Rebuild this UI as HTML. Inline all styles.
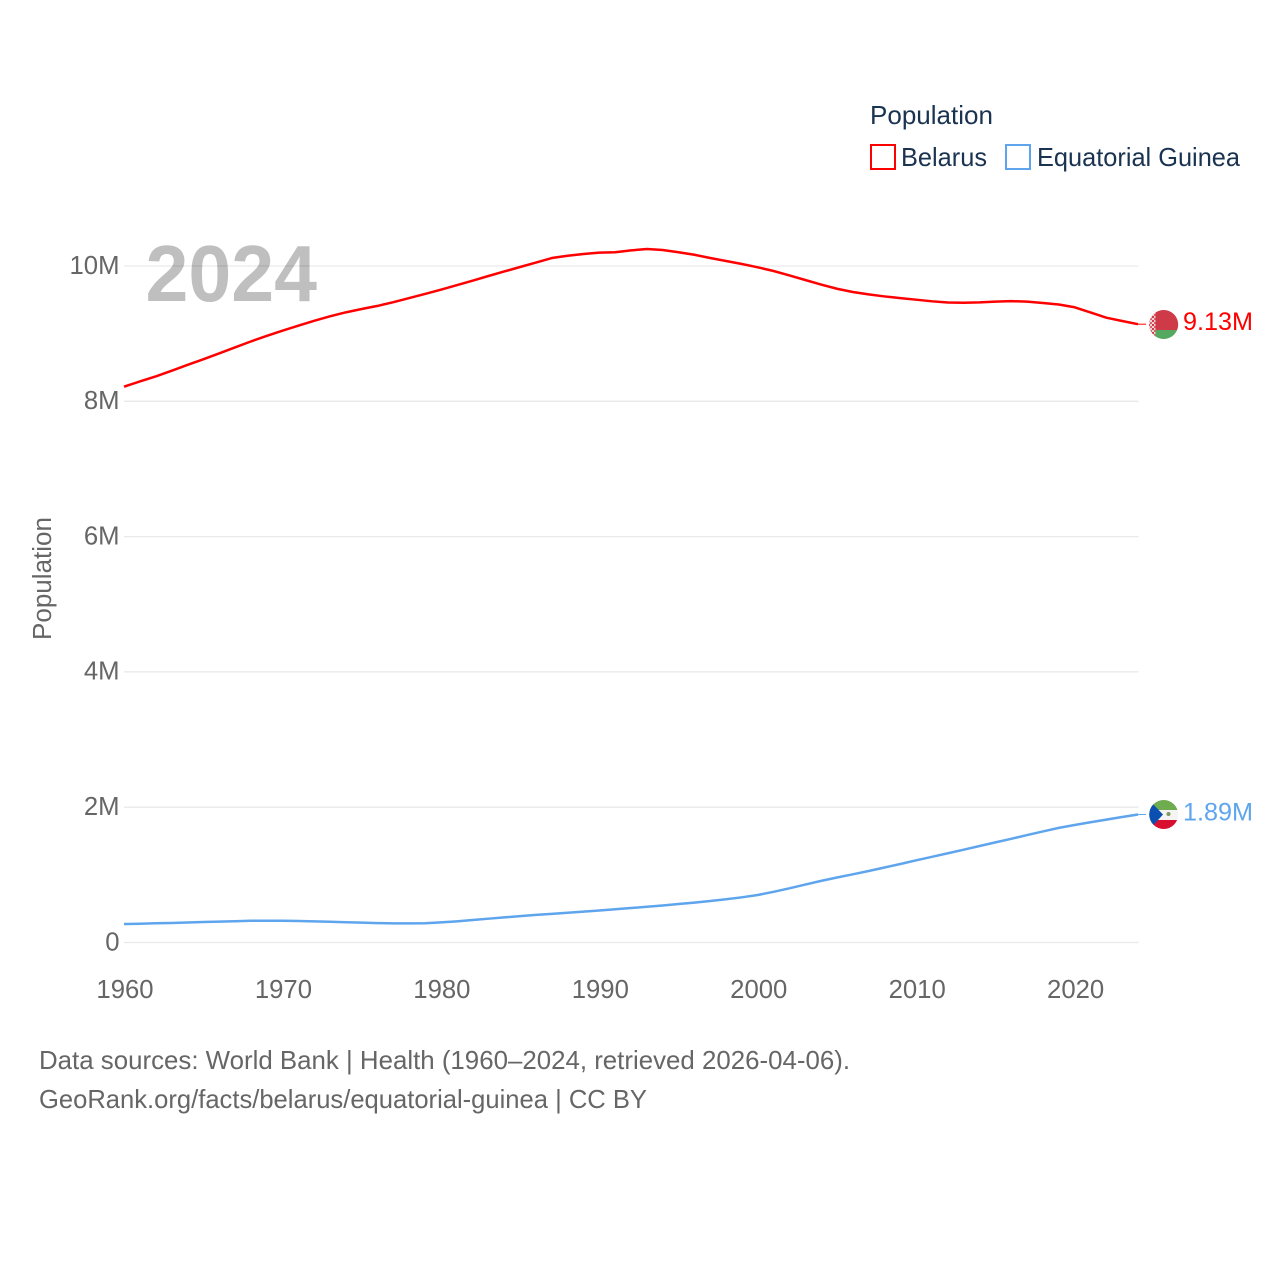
<!DOCTYPE html>
<html>
<head>
<meta charset="utf-8">
<title>Population: Belarus and Equatorial Guinea</title>
<style>
html,body{margin:0;padding:0;background:#fff;width:1280px;height:1280px;overflow:hidden}
svg{display:block}
text{font-family:"Liberation Sans",sans-serif}
</style>
</head>
<body>
<svg id="chart" xmlns="http://www.w3.org/2000/svg" width="1280" height="1280" viewBox="0 0 1280 1280">
  <defs>
    <clipPath id="flag-clip-by"><circle cx="1163.7" cy="324.5" r="14.5"/></clipPath>
    <clipPath id="flag-clip-gq"><circle cx="1163.7" cy="814.5" r="14.5"/></clipPath>
    <pattern id="by-orn" width="4" height="4" patternUnits="userSpaceOnUse">
      <rect width="4" height="4" fill="#f0d4d6"/>
      <rect x="0" y="0" width="2" height="2" fill="#cf3a48"/>
      <rect x="2" y="2" width="2" height="2" fill="#d9626d"/>
    </pattern>
  </defs>
  <rect x="0" y="0" width="1280" height="1280" fill="#ffffff"/>
  <g id="grid"></g>
  <g id="yticks"></g>
  <g id="xticks"></g>
  <text transform="translate(51,640) rotate(-90)" font-size="25.5" fill="#666666" textLength="123" lengthAdjust="spacingAndGlyphs">Population</text>
  <text x="145.5" y="301" font-size="80" font-weight="700" fill="#000000" fill-opacity="0.25" textLength="171.5" lengthAdjust="spacingAndGlyphs">2024</text>
  <g id="series"></g>

  <g clip-path="url(#flag-clip-by)">
    <rect x="1149" y="310" width="30" height="20" fill="#cf3a48"/>
    <rect x="1149" y="330" width="30" height="10" fill="#55a860"/>
    <rect x="1149" y="310" width="6.5" height="30" fill="url(#by-orn)"/>
  </g>
  <g clip-path="url(#flag-clip-gq)">
    <rect x="1149" y="800" width="30" height="10" fill="#6fab4f"/>
    <rect x="1149" y="810" width="30" height="10" fill="#f4f4f4"/>
    <rect x="1149" y="820" width="30" height="10" fill="#d90f2f"/>
    <polygon points="1149,800 1149,830 1163,814.5" fill="#0b50b0"/>
    <circle cx="1168.5" cy="814" r="2" fill="#7c9a5c"/>
  </g>

  <text x="870" y="124" font-size="26" fill="#1a3350" textLength="123" lengthAdjust="spacingAndGlyphs">Population</text>
  <rect x="871" y="145" width="24" height="24" fill="#ffffff" stroke="#ff0000" stroke-width="2"/>
  <text x="901" y="166" font-size="26" fill="#1a3350" textLength="86" lengthAdjust="spacingAndGlyphs">Belarus</text>
  <rect x="1006" y="145" width="24" height="24" fill="#ffffff" stroke="#5ea5ee" stroke-width="2"/>
  <text x="1037" y="166" font-size="26" fill="#1a3350" textLength="203" lengthAdjust="spacingAndGlyphs">Equatorial Guinea</text>

  <text x="39" y="1069" font-size="26" fill="#666666" textLength="811" lengthAdjust="spacingAndGlyphs">Data sources: World Bank | Health (1960–2024, retrieved 2026-04-06).</text>
  <text x="39" y="1108" font-size="26" fill="#666666" textLength="608" lengthAdjust="spacingAndGlyphs">GeoRank.org/facts/belarus/equatorial-guinea | CC BY</text>
</svg>
<script>
const years = [1960,1961,1962,1963,1964,1965,1966,1967,1968,1969,1970,1971,1972,1973,1974,1975,1976,1977,1978,1979,1980,1981,1982,1983,1984,1985,1986,1987,1988,1989,1990,1991,1992,1993,1994,1995,1996,1997,1998,1999,2000,2001,2002,2003,2004,2005,2006,2007,2008,2009,2010,2011,2012,2013,2014,2015,2016,2017,2018,2019,2020,2021,2022,2023,2024];
const belarus = [8.216,8.293,8.367,8.451,8.537,8.621,8.707,8.796,8.884,8.966,9.044,9.117,9.189,9.256,9.315,9.364,9.410,9.465,9.526,9.587,9.650,9.716,9.783,9.852,9.919,9.985,10.051,10.118,10.152,10.177,10.198,10.204,10.231,10.251,10.236,10.203,10.166,10.118,10.074,10.030,9.981,9.926,9.860,9.793,9.726,9.664,9.616,9.580,9.550,9.525,9.502,9.478,9.460,9.457,9.462,9.474,9.480,9.474,9.453,9.431,9.390,9.313,9.236,9.187,9.140];
const equatorialGuinea = [0.273,0.278,0.284,0.288,0.296,0.303,0.309,0.315,0.321,0.322,0.321,0.318,0.312,0.306,0.300,0.293,0.287,0.282,0.282,0.285,0.297,0.313,0.333,0.352,0.371,0.389,0.408,0.424,0.440,0.457,0.473,0.492,0.510,0.528,0.547,0.569,0.590,0.613,0.639,0.668,0.702,0.749,0.801,0.856,0.911,0.961,1.008,1.057,1.109,1.160,1.215,1.267,1.319,1.372,1.426,1.480,1.533,1.588,1.642,1.694,1.737,1.778,1.817,1.855,1.892];
const yTickValues = [0,2,4,6,8,10];
const yTickLabels = ["0","2M","4M","6M","8M","10M"];
const xTickValues = [1960,1970,1980,1990,2000,2010,2020];
const xTickLabels = ["1960","1970","1980","1990","2000","2010","2020"];
const belarusEndLabel = "9.13M";
const guineaEndLabel = "1.89M";

const NS = "http://www.w3.org/2000/svg";
function xScale(year){ return 124 + (year - 1960) * (1138 - 124) / 64; }
function yScale(v){ return 942.5 - v * 67.65; }

const svg = document.getElementById("chart");
const grid = document.getElementById("grid");
const yticks = document.getElementById("yticks");
const xticks = document.getElementById("xticks");
const seriesGroup = document.getElementById("series");

yTickValues.forEach(function(v, i){
  const line = document.createElementNS(NS, "line");
  line.setAttribute("x1", 124);
  line.setAttribute("x2", 1138.5);
  line.setAttribute("y1", yScale(v));
  line.setAttribute("y2", yScale(v));
  line.setAttribute("stroke", "#e9e9e9");
  line.setAttribute("stroke-width", 1.3);
  
  
  grid.appendChild(line);

  const t = document.createElementNS(NS, "text");
  t.setAttribute("x", 119.5);
  t.setAttribute("y", yScale(v) + 7.8);
  t.setAttribute("text-anchor", "end");
  t.setAttribute("font-size", 25.7);
  t.setAttribute("fill", "#666666");
  t.textContent = yTickLabels[i];
  
  
  yticks.appendChild(t);
});

xTickValues.forEach(function(v, i){
  const t = document.createElementNS(NS, "text");
  t.setAttribute("x", xScale(v) + 1);
  t.setAttribute("y", 998);
  t.setAttribute("text-anchor", "middle");
  t.setAttribute("font-size", 25.7);
  t.setAttribute("fill", "#666666");
  t.textContent = xTickLabels[i];
  
  
  xticks.appendChild(t);
});

function drawSeries(values, color, lineName, connectorName, labelName, labelText){
  const pts = values.map(function(v, i){ return xScale(years[i]).toFixed(2) + "," + yScale(v).toFixed(2); }).join(" ");
  const line = document.createElementNS(NS, "polyline");
  line.setAttribute("points", pts);
  line.setAttribute("fill", "none");
  line.setAttribute("stroke", color);
  line.setAttribute("stroke-width", 2.5);
  line.setAttribute("stroke-linejoin", "round");
  
  
  seriesGroup.appendChild(line);

  const endY = yScale(values[values.length - 1]);
  const conn = document.createElementNS(NS, "line");
  conn.setAttribute("x1", 1138);
  conn.setAttribute("x2", 1146);
  conn.setAttribute("y1", endY);
  conn.setAttribute("y2", endY);
  conn.setAttribute("stroke", color);
  conn.setAttribute("stroke-width", 1);
  
  
  seriesGroup.appendChild(conn);

  const t = document.createElementNS(NS, "text");
  t.setAttribute("x", 1183);
  t.setAttribute("y", endY + 6);
  t.setAttribute("font-size", 25);
  t.setAttribute("fill", color);
  t.setAttribute("textLength", 70);
  t.setAttribute("lengthAdjust", "spacingAndGlyphs");
  t.textContent = labelText;
  
  
  svg.appendChild(t);
}

drawSeries(belarus, "#ff0000", "belarus-line", "belarus-connector", "belarus-end-label", belarusEndLabel);
drawSeries(equatorialGuinea, "#5ea5ee", "equatorial-guinea-line", "equatorial-guinea-connector", "equatorial-guinea-end-label", guineaEndLabel);
</script>
</body>
</html>
